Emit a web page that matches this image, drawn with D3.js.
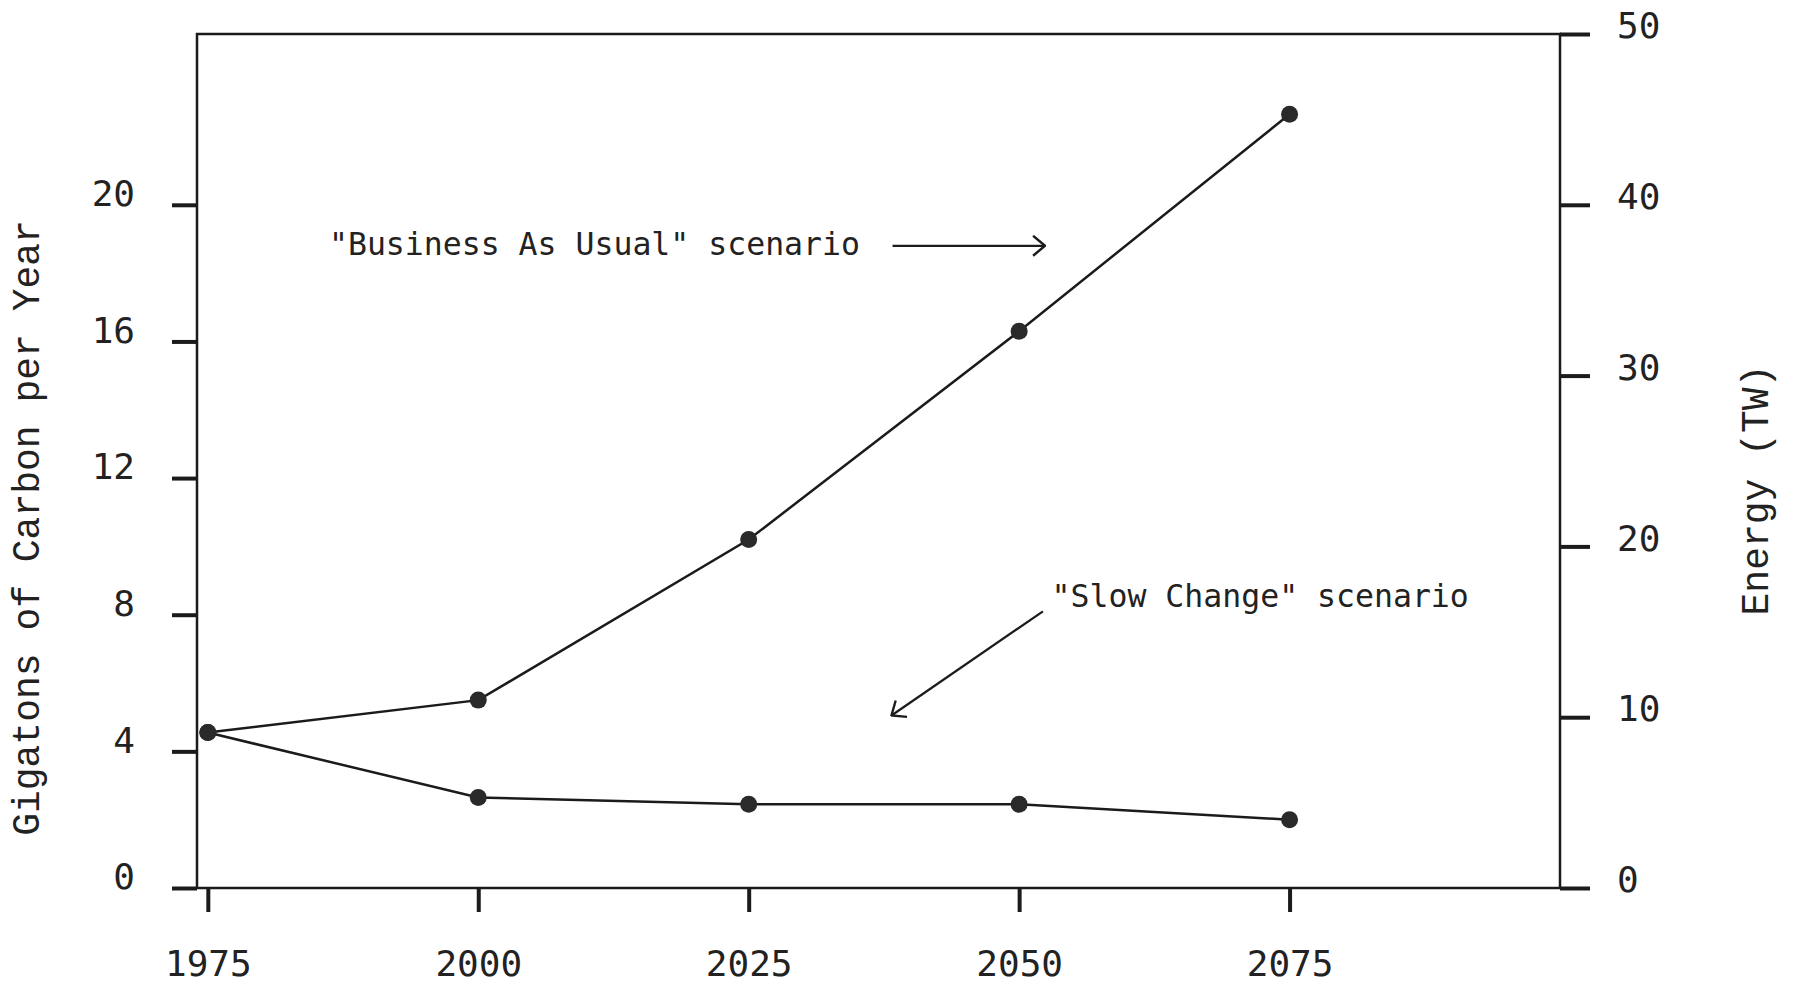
<!DOCTYPE html>
<html>
<head>
<meta charset="utf-8">
<script src="https://cdn.jsdelivr.net/npm/d3@7"></script>
<style>
  html, body { margin: 0; padding: 0; background: #fff; }
  svg { display: block; }
</style>
</head>
<body>
<div id="chart"></div>
<script>
// Data
const years = [1975, 2000, 2025, 2050, 2075];
const businessAsUsual = [4.55, 5.5, 10.2, 16.3, 22.65];
const slowChange = [4.55, 2.65, 2.45, 2.45, 2.0];

const carbonTicks = [0, 4, 8, 12, 16, 20];
const energyTicks = [0, 10, 20, 30, 40, 50];
const yearTicks = [1975, 2000, 2025, 2050, 2075];

const leftTitle = 'Gigatons of Carbon per Year';
const rightTitle = 'Energy (TW)';
const bauLabel = '"Business As Usual" scenario';
const slowLabel = '"Slow Change" scenario';

function renderChart(containerId) {
    const container = d3.select(`#${containerId}`);
    container.selectAll('*').remove();

    const W = 1796, H = 988;
    const margin = { top: 34, right: 236, bottom: 100, left: 197 };
    const width = W - margin.left - margin.right;
    const height = H - margin.top - margin.bottom;
    const ink = '#1b1b1b';

    const svg = container.append('svg')
        .attr('width', W)
        .attr('height', H)
        .append('g')
        .attr('transform', `translate(${margin.left},${margin.top})`);

    // scales
    const x = d3.scaleLinear().domain([1974, 2100]).range([0, width]);
    const y = d3.scaleLinear().domain([0, 25]).range([height, 0]);
    const y2 = d3.scaleLinear().domain([0, 50]).range([height, 0]);

    // frame
    svg.append('rect')
        .attr('width', width)
        .attr('height', height)
        .attr('fill', 'none')
        .attr('stroke', ink)
        .attr('stroke-width', 2.5);

    const styleAxis = (g, fontSize) => {
        g.select('.domain').remove();
        g.selectAll('.tick line').attr('stroke', ink).attr('stroke-width', 4);
        g.selectAll('.tick text')
            .attr('fill', '#222')
            .style('font-family', '"DejaVu Sans Mono", monospace')
            .style('font-size', fontSize + 'px');
    };

    // left axis
    svg.append('g')
        .call(d3.axisLeft(y).tickValues(carbonTicks).tickSize(25).tickPadding(37).tickSizeOuter(0))
        .call(g => styleAxis(g, 36))
        .call(g => g.selectAll('.tick text').attr('dy', '0.02em'));

    // right axis
    svg.append('g')
        .attr('transform', `translate(${width},0)`)
        .call(d3.axisRight(y2).tickValues(energyTicks).tickSize(30).tickPadding(27).tickSizeOuter(0))
        .call(g => styleAxis(g, 36))
        .call(g => g.selectAll('.tick text').attr('dy', '0.1em'));

    // bottom axis
    svg.append('g')
        .attr('transform', `translate(0,${height})`)
        .call(d3.axisBottom(x).tickValues(yearTicks).tickFormat(d3.format('d')).tickSize(24).tickPadding(38).tickSizeOuter(0))
        .call(g => styleAxis(g, 36));

    // axis titles
    svg.append('text')
        .attr('transform', `translate(${29 - margin.left},${height / 2 + 67}) rotate(-90)`)
        .attr('text-anchor', 'middle')
        .attr('dominant-baseline', 'middle')
        .attr('fill', '#222')
        .style('font-family', '"Liberation Mono", "Courier New", monospace')
        .style('font-size', '38px')
        .text(leftTitle);

    svg.append('text')
        .attr('transform', `translate(${width + 198},${y2(23.3)}) rotate(-90)`)
        .attr('text-anchor', 'middle')
        .attr('dominant-baseline', 'middle')
        .attr('fill', '#222')
        .style('font-family', '"Liberation Mono", "Courier New", monospace')
        .style('font-size', '38px')
        .text(rightTitle);

    // series lines and markers
    const line = d3.line()
        .x(d => x(d[0]))
        .y(d => y(d[1]));

    [businessAsUsual, slowChange].forEach(series => {
        const pts = years.map((yr, i) => [yr, series[i]]);
        svg.append('path')
            .datum(pts)
            .attr('fill', 'none')
            .attr('stroke', ink)
            .attr('stroke-width', 2.5)
            .attr('d', line);
        svg.selectAll(null)
            .data(pts)
            .enter()
            .append('circle')
            .attr('cx', d => x(d[0]))
            .attr('cy', d => y(d[1]))
            .attr('r', 8.5)
            .attr('fill', '#2a2a2a');
    });

    // arrow marker (open chevron)
    svg.append('defs').append('marker')
        .attr('id', 'chev')
        .attr('viewBox', '0 0 14 22')
        .attr('refX', 13)
        .attr('refY', 11)
        .attr('markerWidth', 14)
        .attr('markerHeight', 22)
        .attr('markerUnits', 'userSpaceOnUse')
        .attr('orient', 'auto')
        .append('path')
        .attr('d', 'M1,1 L13,11 L1,21')
        .attr('fill', 'none')
        .attr('stroke', ink)
        .attr('stroke-width', 2.4);

    const noteFont = '"DejaVu Sans Mono", monospace';

    // "Business As Usual" annotation
    svg.append('text')
        .attr('x', x(1986.2))
        .attr('y', y(18.8))
        .attr('dominant-baseline', 'middle')
        .attr('fill', '#222')
        .style('font-family', noteFont)
        .style('font-size', '31.5px')
        .text(bauLabel);

    svg.append('line')
        .attr('x1', x(2038.3)).attr('y1', y(18.8))
        .attr('x2', x(2052.4)).attr('y2', y(18.8))
        .attr('stroke', ink)
        .attr('stroke-width', 2.2)
        .attr('marker-end', 'url(#chev)');

    // "Slow Change" annotation
    svg.append('text')
        .attr('x', x(2053.0))
        .attr('y', y(8.5))
        .attr('dominant-baseline', 'middle')
        .attr('fill', '#222')
        .style('font-family', noteFont)
        .style('font-size', '31.5px')
        .text(slowLabel);

    svg.append('line')
        .attr('x1', x(2052.2)).attr('y1', y(8.1))
        .attr('x2', x(2038.2)).attr('y2', y(5.05))
        .attr('stroke', ink)
        .attr('stroke-width', 2.2)
        .attr('marker-end', 'url(#chev)');
}

renderChart('chart');
</script>
</body>
</html>
